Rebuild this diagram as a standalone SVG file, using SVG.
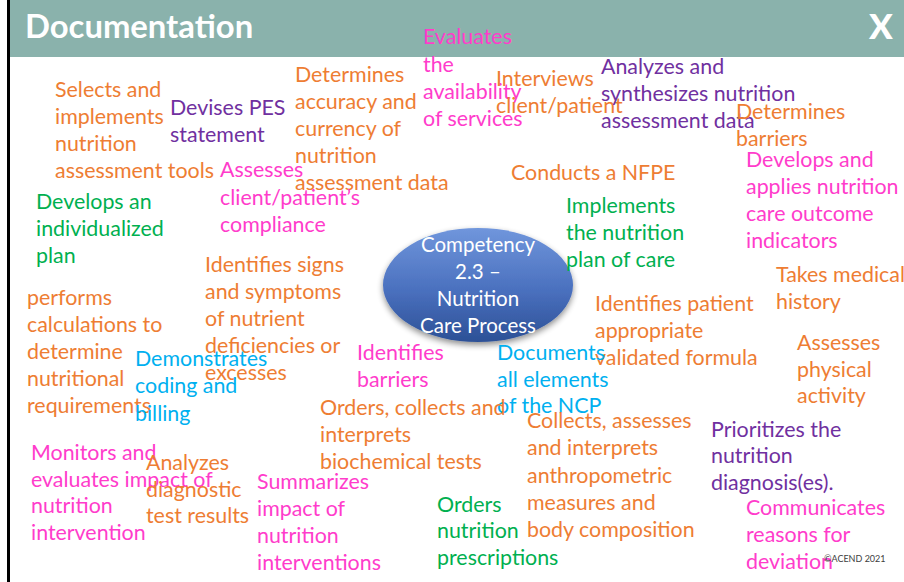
<svg xmlns="http://www.w3.org/2000/svg" width="904" height="582" viewBox="0 0 904 582">
<defs>
<linearGradient id="ellG" x1="0" y1="0" x2="0" y2="1">
<stop offset="0" stop-color="#7096DC"/>
<stop offset="0.55" stop-color="#4A70BE"/>
<stop offset="1" stop-color="#2C5096"/>
</linearGradient>
<filter id="sh" x="-20%" y="-20%" width="140%" height="150%">
<feGaussianBlur in="SourceAlpha" stdDeviation="3"/>
<feOffset dy="3" result="b"/>
<feComponentTransfer><feFuncA type="linear" slope="0.45"/></feComponentTransfer>
<feMerge><feMergeNode/><feMergeNode in="SourceGraphic"/></feMerge>
</filter>
</defs>
<style>
text{font-family:Lato,"Liberation Sans",sans-serif;font-size:21.4px}
.o{fill:#EE7D33}
.p{fill:#7030A0}
.m{fill:#FF3CCB}
.g{fill:#00B050}
.b{fill:#00B0F0}
.w{fill:#FFFFFF}
</style>
<rect x="0" y="0" width="904" height="582" fill="#FFFFFF"/>
<g id="header">
<rect x="10" y="0" width="894" height="57" fill="#8AB2AC"/>
<rect x="7" y="0" width="3" height="582" fill="#000000"/>
<text x="25" y="38" class="w" style="font-size:32.8px;font-weight:bold">Documentation</text>
<text x="869" y="39" class="w" style="font-size:35px;font-weight:900">X</text>
</g>
<g id="center">
<ellipse cx="478" cy="285" rx="95" ry="57" fill="url(#ellG)" filter="url(#sh)"/>
<text class="w" text-anchor="middle" style="font-size:20.5px"><tspan x="478" y="252">Competency</tspan><tspan x="478" y="279">2.3 –</tspan><tspan x="478" y="306">Nutrition</tspan><tspan x="478" y="333">Care Process</tspan></text>
</g>
<g id="n1"><text class="o"><tspan x="55" y="97">Selects and</tspan><tspan x="55" y="124">implements</tspan><tspan x="55" y="151">nutrition</tspan><tspan x="55" y="178">assessment tools</tspan></text></g>
<g id="n2"><text class="p"><tspan x="170" y="115">Devises PES</tspan><tspan x="170" y="142">statement</tspan></text></g>
<g id="n3"><text class="o"><tspan x="295" y="82">Determines</tspan><tspan x="295" y="109">accuracy and</tspan><tspan x="295" y="136">currency of</tspan><tspan x="295" y="163">nutrition</tspan><tspan x="295" y="190">assessment data</tspan></text></g>
<g id="n4"><text class="m"><tspan x="423" y="44">Evaluates</tspan><tspan x="423" y="72">the</tspan><tspan x="423" y="99">availability</tspan><tspan x="423" y="126">of services</tspan></text></g>
<g id="n5"><text class="o"><tspan x="496" y="86">Interviews</tspan><tspan x="496" y="113">client/patient</tspan></text></g>
<g id="n6"><text class="p"><tspan x="601" y="74">Analyzes and</tspan><tspan x="601" y="101">synthesizes nutrition</tspan><tspan x="601" y="128">assessment data</tspan></text></g>
<g id="n7"><text class="o"><tspan x="736" y="119">Determines</tspan><tspan x="736" y="146">barriers</tspan></text></g>
<g id="n8"><text class="o"><tspan x="511" y="180">Conducts a NFPE</tspan></text></g>
<g id="n9"><text class="m"><tspan x="746" y="167">Develops and</tspan><tspan x="746" y="194">applies nutrition</tspan><tspan x="746" y="221">care outcome</tspan><tspan x="746" y="248">indicators</tspan></text></g>
<g id="n10"><text class="g"><tspan x="36" y="209">Develops an</tspan><tspan x="36" y="236">individualized</tspan><tspan x="36" y="263">plan</tspan></text></g>
<g id="n11"><text class="m"><tspan x="220" y="177">Assesses</tspan><tspan x="220" y="205">client/patient’s</tspan><tspan x="220" y="232">compliance</tspan></text></g>
<g id="n12"><text class="o"><tspan x="205" y="272">Identifies signs</tspan><tspan x="205" y="299">and symptoms</tspan><tspan x="205" y="326">of nutrient</tspan><tspan x="205" y="353">deficiencies or</tspan><tspan x="205" y="380">excesses</tspan></text></g>
<g id="n13"><text class="o"><tspan x="27" y="305">performs</tspan><tspan x="27" y="332">calculations to</tspan><tspan x="27" y="359">determine</tspan><tspan x="27" y="386">nutritional</tspan><tspan x="27" y="413">requirements</tspan></text></g>
<g id="n14"><text class="b"><tspan x="135" y="366">Demonstrates</tspan><tspan x="135" y="393">coding and</tspan><tspan x="135" y="421">billing</tspan></text></g>
<g id="n15"><text class="m"><tspan x="357" y="360">Identifies</tspan><tspan x="357" y="387">barriers</tspan></text></g>
<g id="n16"><text class="g"><tspan x="566" y="213">Implements</tspan><tspan x="566" y="240">the nutrition</tspan><tspan x="566" y="267">plan of care</tspan></text></g>
<g id="n17"><text class="o"><tspan x="776" y="282">Takes medical</tspan><tspan x="776" y="309">history</tspan></text></g>
<g id="n18"><text class="o"><tspan x="595" y="311">Identifies patient</tspan><tspan x="595" y="338">appropriate</tspan><tspan x="595" y="365">validated formula</tspan></text></g>
<g id="n19"><text class="o"><tspan x="797" y="350">Assesses</tspan><tspan x="797" y="377">physical</tspan><tspan x="797" y="403">activity</tspan></text></g>
<g id="n20"><text class="b"><tspan x="497" y="360">Documents</tspan><tspan x="497" y="387">all elements</tspan><tspan x="497" y="413">of the NCP</tspan></text></g>
<g id="n21"><text class="o"><tspan x="320" y="415">Orders, collects and</tspan><tspan x="320" y="442">interprets</tspan><tspan x="320" y="469">biochemical tests</tspan></text></g>
<g id="n22"><text class="o"><tspan x="527" y="428">Collects, assesses</tspan><tspan x="527" y="455">and interprets</tspan><tspan x="527" y="483">anthropometric</tspan><tspan x="527" y="510">measures and</tspan><tspan x="527" y="537">body composition</tspan></text></g>
<g id="n23"><text class="p"><tspan x="711" y="437">Prioritizes the</tspan><tspan x="711" y="463">nutrition</tspan><tspan x="711" y="490">diagnosis(es).</tspan></text></g>
<g id="n24"><text class="m"><tspan x="31" y="460">Monitors and</tspan><tspan x="31" y="487">evaluates impact of</tspan><tspan x="31" y="513">nutrition</tspan><tspan x="31" y="540">intervention</tspan></text></g>
<g id="n25"><text class="o"><tspan x="146" y="470">Analyzes</tspan><tspan x="146" y="497">diagnostic</tspan><tspan x="146" y="523">test results</tspan></text></g>
<g id="n26"><text class="m"><tspan x="257" y="489">Summarizes</tspan><tspan x="257" y="516">impact of</tspan><tspan x="257" y="543">nutrition</tspan><tspan x="257" y="570">interventions</tspan></text></g>
<g id="n27"><text class="g"><tspan x="437" y="512">Orders</tspan><tspan x="437" y="538">nutrition</tspan><tspan x="437" y="565">prescriptions</tspan></text></g>
<g id="n28"><text class="m"><tspan x="746" y="515">Communicates</tspan><tspan x="746" y="542">reasons for</tspan><tspan x="746" y="569">deviation</tspan></text></g>
<g id="copyright"><text x="824" y="562" style="font-size:9px;fill:#404040">©ACEND 2021</text></g>
</svg>
